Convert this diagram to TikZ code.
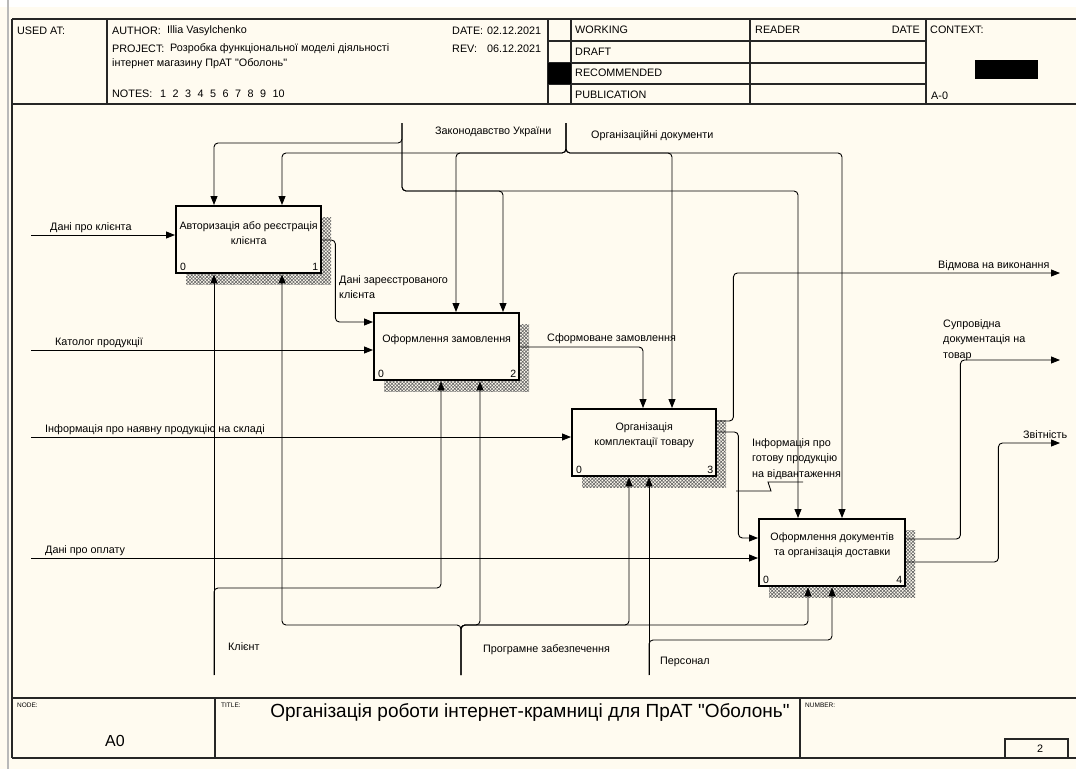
\documentclass[tikz,border=0pt]{standalone}
\usepackage{fontspec}
\setmainfont{Liberation Sans}[Ligatures=TeXOff]
\usetikzlibrary{arrows.meta,patterns.meta,shadows}
\definecolor{paper}{RGB}{255,251,240}
\definecolor{rim}{RGB}{185,185,185}

\tikzset{
  fn/.style={draw, line width=2.4pt, fill=paper, anchor=north west,
    minimum width=145pt, minimum height=67pt, inner sep=0pt,
    general shadow={shadow xshift=10pt, shadow yshift=-11pt,
      pattern={Hatch[angle=45, distance=2.4pt, line width=0.6pt]}, pattern color=black!60}},
  fntext/.style={font=\fontsize{10.7}{15}\selectfont, align=center, inner sep=0pt},
  num/.style={font=\fontsize{10.5}{11}\selectfont, inner sep=0pt},
  flow/.style={line width=0.9pt, rounded corners=4pt, -{Triangle[length=9pt,width=7pt]}},
  lbl/.style={font=\fontsize{10.8}{15.5}\selectfont, inner sep=0pt, anchor=west, align=left},
  hdr/.style={font=\fontsize{10.8}{13}\selectfont, inner sep=0pt, anchor=west},
  tiny/.style={font=\fontsize{6.5}{7}\selectfont, inner sep=0pt, anchor=west},
  frame/.style={line width=1.3pt, black!85},
}

\begin{document}
\begin{tikzpicture}[x=1pt, y=-1pt]
  \useasboundingbox (0,0) rectangle (1076,769);
  \fill[white] (0,0) rectangle (1076,769);
  \fill[paper] (0,7) rectangle (1076,769);
  \draw[rim, line width=1.5pt] (8,0) -- (8,769);

  % sheet frame, header and footer
  \draw[frame] (12,19) -- (1076,19) (12,104) -- (1076,104)
    (12,698) -- (1076,698) (12,758) -- (1076,758) (12,19) -- (12,758);
  \foreach \x in {107,548,571,750,926} \draw[frame] (\x,19) -- (\x,104);
  \foreach \y in {41,63,84} \draw[frame] (548,\y) -- (926,\y);
  \fill (548,63) rectangle (571,84);
  \fill (975,60) rectangle (1038,79);
  \foreach \x in {215,800} \draw[frame] (\x,698) -- (\x,758);
  \draw[frame] (1005,739) rectangle (1068,758);

  \node[hdr] (usedat) at (17,31) {USED AT:};
  \node[hdr] (author) at (112,31) {AUTHOR:};
  \node[hdr] (authorname) at (167,31) {Illia Vasylchenko};
  \node[hdr] (project) at (112,49) {PROJECT:};
  \node[hdr] (projecta) at (170,49) {Розробка функціональної моделі діяльності};
  \node[hdr] (projectb) at (112,64) {інтернет магазину ПрАТ "Оболонь"};
  \node[hdr] (notes) at (112,94) {NOTES:};
  \node[hdr] (notenums) at (160,94) {1\hspace{6.5pt}2\hspace{6.5pt}3\hspace{6.5pt}4\hspace{6.5pt}5\hspace{6.5pt}6\hspace{6.5pt}7\hspace{6.5pt}8\hspace{6.5pt}9\hspace{6.5pt}10};
  \node[hdr] (date) at (452,31) {DATE:};
  \node[hdr] (dateval) at (487,31) {02.12.2021};
  \node[hdr] (rev) at (452,49) {REV:};
  \node[hdr] (revval) at (487,49) {06.12.2021};
  \node[hdr] (working) at (575,30) {WORKING};
  \node[hdr] (draft) at (575,52) {DRAFT};
  \node[hdr] (recommended) at (575,73) {RECOMMENDED};
  \node[hdr] (publication) at (575,95) {PUBLICATION};
  \node[hdr] (reader) at (755,30) {READER};
  \node[hdr, anchor=east] (readerdate) at (920,30) {DATE};
  \node[hdr] (context) at (930,30) {CONTEXT:};
  \node[hdr] (ctxnode) at (931,96) {A-0};

  \node[tiny] (nodelbl) at (17,705) {NODE:};
  \node[font=\fontsize{16}{17}\selectfont, inner sep=0pt] (nodeval) at (115,741) {A0};
  \node[tiny] (titlelbl) at (221,705) {TITLE:};
  \node[font=\fontsize{19}{22}\selectfont, inner sep=0pt] (title) at (530,712)
    {Організація роботи інтернет-крамниці для ПрАТ "Оболонь"};
  \node[tiny] (numberlbl) at (805,705) {NUMBER:};
  \node[hdr, anchor=center] (numberval) at (1040,749) {2};

  % activity boxes
  \node[fn] (b1) at (175,205) {};
  \node[fn] (b2) at (373,312) {};
  \node[fn, minimum width=144pt] (b3) at (571,408) {};
  \node[fn, minimum width=146pt] (b4) at (758,518) {};

  \node[fntext] (t1) at ([yshift=7pt]b1.center) {Авторизація або реєстрація\\клієнта};
  \node[fntext] (t2) at ([yshift=7pt]b2.center) {Оформлення замовлення};
  \node[fntext] (t3) at ([yshift=7pt]b3.center) {Організація\\комплектації товару};
  \node[fntext] (t4) at ([yshift=7pt]b4.center) {Оформлення документів\\та організація доставки};

  \foreach \b/\n in {b1/1,b2/2,b3/3,b4/4} {
    \node[num, anchor=south west] (\b zero) at ([shift={(5pt,4pt)}]\b.south west) {0};
    \node[num, anchor=south east] (\b num) at ([shift={(-4pt,4pt)}]\b.south east) {\n};
  }

  % free ends and branch points
  \coordinate (inA) at (31,235);
  \coordinate (inB) at (31,350);
  \coordinate (inC) at (31,437);
  \coordinate (inD) at (31,558);
  \coordinate (law) at (402,123);
  \coordinate (lawA) at (402,143);
  \coordinate (lawB) at (402,191);
  \coordinate (org) at (566,123);
  \coordinate (orgA) at (566,153);
  \coordinate (client) at (214,675);
  \coordinate (clientA) at (214,588);
  \coordinate (soft) at (461,675);
  \coordinate (softA) at (461,625);
  \coordinate (staff) at (649,675);
  \coordinate (staffA) at (649,640);
  \coordinate (refuse) at (1060,273);
  \coordinate (docs) at (1060,360);
  \coordinate (report) at (1060,443);

  % inputs
  \draw[flow] (inA) -- (inA -| b1.west);
  \draw[flow] (inB) -- (inB -| b2.west);
  \draw[flow] (inC) -- (inC -| b3.west);
  \draw[flow] (inD) -- (inD -| b4.west);

  % controls
  \draw[flow] (law) -- (lawA) -| ([xshift=39pt]b1.north west);
  \draw[flow] (law) -- (lawB) -| ([xshift=130pt]b2.north west);
  \draw[flow] (law) -- (lawB) -| ([xshift=40pt]b4.north west);
  \draw[flow] (org) -- (orgA) -| ([xshift=107pt]b1.north west);
  \draw[flow] (org) -- (orgA) -| ([xshift=83pt]b2.north west);
  \draw[flow] (org) -- (orgA) -| ([xshift=101pt]b3.north west);
  \draw[flow] (org) -- (orgA) -| ([xshift=84pt]b4.north west);

  % mechanisms
  \draw[flow] (client) -- (client |- b1.south);
  \draw[flow] (client) -- (clientA) -| ([xshift=68pt]b2.south west);
  \draw[flow] (soft) -- (softA) -| ([xshift=107pt]b1.south west);
  \draw[flow] (soft) -- (softA) -| ([xshift=107pt]b2.south west);
  \draw[flow] (soft) -- (softA) -| ([xshift=58pt]b3.south west);
  \draw[flow] (soft) -- (softA) -| ([xshift=50pt]b4.south west);
  \draw[flow] (staff) -- (staff |- b3.south);
  \draw[flow] (staff) -- (staffA) -| ([xshift=74pt]b4.south west);

  % links between boxes and outputs
  \draw[flow] ([yshift=-35pt]b1.north east) -- ++(13,0) |- ([yshift=-10pt]b2.north west);
  \draw[flow] ([yshift=-35pt]b2.north east) -| ([xshift=72pt]b3.north west);
  \draw[flow] ([yshift=-24pt]b3.north east) -- ++(21,0) |- ([yshift=-20pt]b4.north west);
  \draw[flow] ([yshift=-13pt]b3.north east) -- ++(16,0) |- (refuse);
  \draw[flow] ([yshift=-21pt]b4.north east) -- ++(54,0) |- (docs);
  \draw[flow] ([yshift=-44pt]b4.north east) -- ++(92,0) |- (report);
  % squiggle to the shipping label
  \draw[line width=0.9pt] (736,491) -- (771,491) -- (768,482) -- (803,482);

  % arrow labels
  \node[lbl] (lLaw) at (435,132) {Законодавство України};
  \node[lbl] (lOrg) at (591,136) {Організаційні документи};
  \node[lbl] (lInA) at (50,228) {Дані про клієнта};
  \node[lbl] (lInB) at (55,343) {Католог продукції};
  \node[lbl] (lInC) at (45,430) {Інформація про наявну продукцію на складі};
  \node[lbl] (lInD) at (45,551) {Дані про оплату};
  \node[lbl, anchor=north west] (lReg) at (339,275) {Дані зареєстрованого\\клієнта};
  \node[lbl] (lOrder) at (547,339) {Сформоване замовлення};
  \node[lbl] (lRefuse) at (938,266) {Відмова на виконання};
  \node[lbl, anchor=north west] (lDocs) at (943,319) {Супровідна\\документація на\\товар};
  \node[lbl] (lReport) at (1023,435) {Звітність};
  \node[lbl, anchor=north west] (lReady) at (752,438) {Інформація про\\готову продукцію\\на відвантаження};
  \node[lbl] (lClient) at (228,647) {Клієнт};
  \node[lbl] (lSoft) at (483,650) {Програмне забезпечення};
  \node[lbl] (lStaff) at (660,662) {Персонал};
\end{tikzpicture}
\end{document}
